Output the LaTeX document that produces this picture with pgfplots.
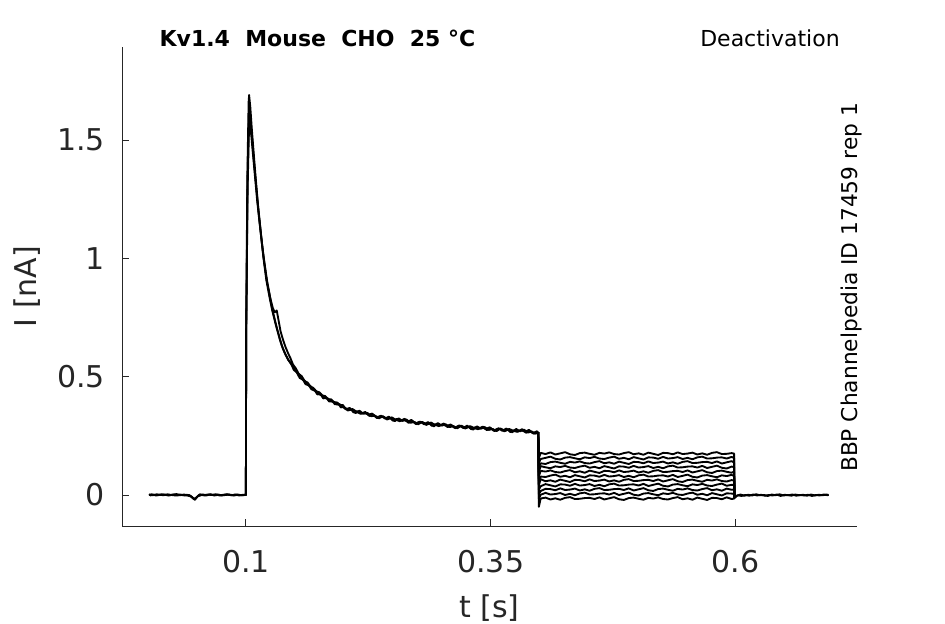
\documentclass[border=0pt]{standalone}
\usepackage{pgfplots}
\usepackage{pgfplotstable}
\pgfplotsset{compat=1.18}
\usepackage{fontspec}
\setmainfont{DejaVu Sans}
\definecolor{axgray}{HTML}{262626}

% deactivation segment: t in ms, currents in pA
\pgfplotstableread{
t d1 d2 d3 d4 d5 d6 d7 d8 d9 d10 d11
398.5 266 266 266 266 266 266 266 266 266 266 266
399.2 155 136 117 98 79 60 41 22 3 -16 -50
401 178 152 134 122 102 78 67 37 17 1 -15
406 173 157 131 117 99 76 58 46 26 9 -11
411 180 162 139 113 104 82 62 41 25 2 -19
416 171 153 141 121 97 86 56 36 20 4 -14
421 176 150 136 118 95 77 65 45 28 8 -20
426 181 158 132 123 101 81 60 44 21 0 -12
431 172 160 140 116 105 75 55 39 23 5 -9
436 169 155 137 114 96 84 64 47 27 -1 -17
441 177 151 142 120 100 79 63 40 19 7 -16
446 179 159 135 124 94 74 58 42 24 10 -13
451 174 156 133 115 103 83 66 46 18 2 -12
456 170 161 139 119 98 82 59 38 26 3 -17
461 178 154 143 113 93 77 61 43 29 6 -10
466 175 152 134 122 102 85 65 37 21 7 -19
471 180 158 138 117 101 78 57 45 22 2 -14
476 173 162 132 112 96 80 62 48 25 9 -9
481 171 153 141 121 104 84 56 40 26 0 -18
486 177 157 136 120 97 76 64 41 21 5 -21
491 181 151 131 115 99 81 67 44 28 10 -13
496 172 160 140 123 103 75 59 45 19 1 -11
501 176 155 139 116 95 83 60 40 24 -2 -16
506 170 150 134 118 100 86 63 47 29 6 -20
511 179 159 142 122 94 78 64 38 20 8 -12
516 174 158 135 114 102 79 59 43 17 3 -15
521 169 153 137 119 105 82 66 48 25 -1 -10
526 178 161 141 113 97 83 57 39 27 7 -17
531 177 154 133 121 98 78 62 36 22 4 -19
536 172 156 138 124 101 85 67 44 18 9 -13
541 180 160 132 116 102 76 58 46 26 2 -9
546 173 152 140 117 97 81 55 41 23 0 -18
551 175 157 143 120 104 86 63 37 28 6 -14
556 179 151 135 121 95 77 65 45 21 10 -20
561 171 159 136 116 100 74 60 42 19 1 -11
566 176 162 139 123 105 82 56 47 25 5 -16
571 170 154 140 114 96 84 64 40 29 -1 -21
576 178 155 135 119 93 79 61 38 20 8 -12
581 181 158 142 124 101 75 66 44 24 3 -13
586 173 159 133 115 103 83 59 48 18 -2 -18
591 174 154 138 112 98 80 57 39 27 7 -10
596 177 161 143 120 94 85 63 43 22 6 -17
598.5 175 156 137 118 99 80 61 42 23 4 -15
599.0 -12 -12 -12 -12 -12 -12 -12 -12 -12 -12 -12
}\deact

\begin{document}
\begin{tikzpicture}
\useasboundingbox (0,0) rectangle (708.75pt,468pt);
\begin{axis}[
  at={(91.5pt,73.5pt)}, anchor=south west,
  scale only axis, width=551pt, height=359.25pt,
  xmin=-26.5, xmax=723.7, ymin=-131, ymax=1893,
  axis x line=bottom, axis y line=left,
  axis line style={-, draw=axgray, line width=0.6pt},
  tick align=inside, major tick length=5.25pt,
  tick style={draw=axgray, line width=0.6pt},
  xtick={100,350,600}, xticklabels={0.1,0.35,0.6},
  ytick={0,500,1000,1500}, yticklabels={0,0.5,1,1.5},
  minor tick num=0,
  ticklabel style={font=\fontsize{22.5}{27}\selectfont, text=axgray},
  yticklabel style={anchor=east, inner sep=0pt, xshift=-12.75pt},
  xticklabel style={anchor=north, inner sep=0pt, yshift=-18pt},
  xlabel={t [s]}, ylabel={I [nA]},
  label style={font=\fontsize{22.5}{27}\selectfont, text=axgray},
  xlabel style={at={(axis description cs:0.5,-0.172)}, anchor=center},
  ylabel style={at={(axis description cs:-0.1293,0.5)}, anchor=center},
  clip=false,
  cycle list={{black, mark=none, line width=1.4pt, line join=round}},
  every axis plot post/.append style={black, mark=none, line width=1.4pt, line join=round},
]
% trace A
\addplot coordinates {(1,2)(5,-1)(9,3)(13,0)(17,2)(21,-2)(25,1)(29,4)(33,-1)(37,2)(41,-3)(44,-6)(46,-14)(48,-20)(50,-8)(53,3)(57,-1)(61,2)(65,0)(69,3)(73,-2)(77,1)(81,3)(85,-1)(89,2)(93,-2)(97,1)(99.8,0)
(100,0)(100.3,700)(101.5,1350)(102.8,1660)(103.3,1690)(104.5,1640)(106,1550)(107.5,1470)(110,1340)(112.5,1220)(115,1120)(117.7,1015)(121,915)(124.5,840)(127,785)(129.6,740)(132,700)(134.7,660)(137,628)(139,607)(141,589)
(143,572)(146,556)(149,528)(151.7,520)(155,494)(158,489)(161,468)(164,465)(167,446)(170,444)(173,425)(176,427)(179,408)(182,412)(185,395)(188,398)(191,383)(194,388)(197,370)
(200,373)(204,357)(208,361)(212,346)(216,356)(220,343)(224,347)(228,333)(232,335)(236,324)
(240,333)(244,319)(248,325)(252,312)(256,324)(260,313)(264,319)(268,305)(272,309)(276,299)
(280,309)(284,296)(288,303)(292,290)(296,304)(300,293)(304,299)(308,287)(312,291)(316,282)
(320,293)(324,281)(328,289)(332,276)(336,290)(340,280)(344,287)(348,275)(352,279)(356,270)
(360,281)(364,269)(368,277)(372,265)(376,279)(380,269)(384,276)(388,264)(392,268)(396,259)(398.5,266)};
% trace B
\addplot coordinates {(1,0)(4,3)(8,-2)(12,1)(16,-1)(20,3)(24,0)(28,-2)(32,2)(36,-1)(40,1)(43,-4)(45,-10)(47,-16)(49,-12)(52,-2)(56,2)(60,-1)(64,3)(68,-2)(72,1)(76,-1)(80,2)(84,0)(88,-2)(92,1)(96,-1)(99.8,1)
(100,0)(100.3,650)(101.6,1300)(103,1600)(103.6,1620)(105,1570)(106.5,1500)(108,1420)(110.5,1305)(113,1195)(115.5,1095)(118,1000)(121,905)(124.5,828)(127,778)(130,728)(132.5,690)(135,652)(137.5,622)(140,597)(142.5,578)
(145,560)(148,545)(151,522)(154,510)(157,490)(160,482)(163,465)(166,459)(169,443)(172,438)(175,425)(178,421)(181,409)(184,407)(187,395)(190,394)(193,382)(196,383)(199,372)
(202,362)(206,368)(210,349)(214,354)(218,344)(222,351)(226,334)(230,340)(234,325)(238,335)
(242,323)(246,331)(250,314)(254,321)(258,313)(262,322)(266,305)(270,313)(274,299)(278,310)
(282,299)(286,308)(290,292)(294,299)(298,293)(302,302)(306,287)(310,295)(314,282)(318,294)
(322,283)(326,293)(330,278)(334,286)(338,280)(342,289)(346,274)(350,283)(354,270)(358,282)
(362,271)(366,281)(370,266)(374,274)(378,268)(382,278)(386,263)(390,272)(394,259)(398.5,266)};
% trace C
\addplot coordinates {(2,-2)(6,1)(10,-1)(14,3)(18,0)(22,-1)(26,2)(30,-2)(34,1)(38,-2)(42,0)(45,-8)(47,-18)(49,-14)(51,-5)(55,0)(59,-2)(63,2)(67,-1)(71,2)(75,-2)(79,0)(83,2)(87,-1)(91,2)(95,-1)(99.8,0)
(100,0)(100.3,680)(101.8,1300)(103.3,1570)(103.9,1580)(105.5,1520)(107,1450)(109,1360)(111.5,1245)(114,1150)(116.5,1060)(119,980)(122,895)(125,830)(127.5,790)(129.5,772)(131.5,780)(133.5,735)(135.5,690)(138,655)(140.5,625)
(143,600)(145.5,578)(148,552)(151,535)(154,512)(157,502)(160,482)(163,475)(166,459)(169,452)(172,438)(175,434)(178,421)(181,418)(184,405)(187,404)(190,392)(193,391)(196,380)(199,380)
(201,369)(205,359)(209,363)(213,352)(217,343)(221,348)(225,339)(229,344)(233,328)(237,333)
(241,329)(245,322)(249,328)(253,318)(257,312)(261,318)(265,310)(269,317)(273,302)(277,309)
(281,306)(285,299)(289,306)(293,297)(297,291)(301,299)(305,291)(309,298)(313,284)(317,292)
(321,290)(325,284)(329,291)(333,283)(337,278)(341,286)(345,279)(349,286)(353,272)(357,280)
(361,278)(365,272)(369,279)(373,271)(377,267)(381,275)(385,267)(389,275)(393,261)(397,269)(398.5,266)};
% deactivation segments
\addplot table[x=t,y=d1] {\deact};
\addplot table[x=t,y=d2] {\deact};
\addplot table[x=t,y=d3] {\deact};
\addplot table[x=t,y=d4] {\deact};
\addplot table[x=t,y=d5] {\deact};
\addplot table[x=t,y=d6] {\deact};
\addplot table[x=t,y=d7] {\deact};
\addplot table[x=t,y=d8] {\deact};
\addplot table[x=t,y=d9] {\deact};
\addplot table[x=t,y=d10] {\deact};
\addplot table[x=t,y=d11] {\deact};
% tails
\addplot coordinates {(599,-12)(601,-4)(605,2)(609,-3)(613,1)(617,-2)(621,3)(625,-1)(629,0)(633,-4)(637,2)(641,-1)(645,3)(649,-2)(653,0)(657,-3)(661,2)(665,-1)(669,1)(673,-3)(677,2)(681,-2)(685,1)(689,-1)(693,2)(695,0)};
\addplot coordinates {(599,-12)(602,-1)(606,-4)(610,0)(614,-3)(618,2)(622,-2)(626,1)(630,-3)(634,0)(638,-2)(642,2)(646,-4)(650,1)(654,-1)(658,2)(662,-3)(666,0)(670,-2)(674,1)(678,-4)(682,0)(686,-2)(690,2)(694,-1)(695,1)};
% annotations
\node[font=\bfseries\fontsize{16.5}{20}\selectfont, anchor=base, inner sep=0pt] at (rel axis cs:0.2661,1) {Kv1.4\ \ Mouse\ \ CHO\ \ 25 °C};
\node[font=\fontsize{16.5}{20}\selectfont, anchor=base east, inner sep=0pt] at (rel axis cs:0.9773,1.002) {Deactivation};
\node[font=\fontsize{16.3}{19}\selectfont, rotate=90, anchor=base, inner sep=0pt] at (rel axis cs:1.0018,0.498) {BBP Channelpedia ID 17459 rep 1};
\end{axis}
\end{tikzpicture}
\end{document}
